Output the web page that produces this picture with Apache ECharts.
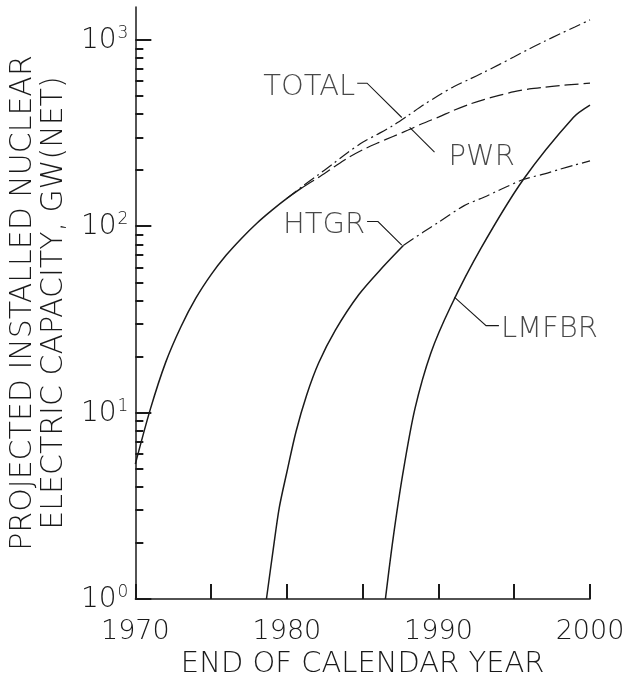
<!DOCTYPE html>
<html>
<head>
<meta charset="utf-8">
<script src="https://cdn.jsdelivr.net/npm/echarts@6/dist/echarts.min.js"></script>
<style>
html,body{margin:0;padding:0;background:#fff;}
#chart{width:630px;height:684px;}
</style>
</head>
<body>
<div id="chart"></div>
<script>
// ---- data ----
const years = [1970,1971,1972,1973,1974,1975,1976,1977,1978,1979,1980,1981,1982,1983,1984,1985,1986,1987,1988,1989,1990,1991,1992,1993,1994,1995,1996,1997,1998,1999,2000];
const totalGW = [5.3,10.5,18.6,28.8,41.2,55,70,86,103.5,121.6,141,163,187,215,248,282,312,347,393,447,502,560,612,670,736,811,895,982,1074,1172,1280];
const pwrGW   = [5.3,10.5,18.6,28.8,41.2,55,70,86,103.5,121.6,141,161,181,205,232,257,280,303,328,357,385,418,450,478,503,527,545,557,568,577,585];
const htgrYears = [1978.65,1979.1,1979.5,1980,1980.6,1981.3,1982.1,1983.2,1984.75,1986.3,1987.7,1989,1990,1991.7,1993,1994,1995.6,1997,1998,1999,2000];
const htgrGW    = [1,1.85,3.1,4.8,7.9,12.4,18.5,27.7,43,60,79,93,105,129,143,156,178,191,202,213,224];
const lmfbrYears = [1986.5,1987,1987.65,1988.45,1989.5,1990.8,1992.8,1995.6,1998.9,2000];
const lmfbrGW    = [1,2.09,4.7,10.5,20.9,37,76,178,383,446];

const xTickYears = [1970,1975,1980,1985,1990,1995,2000];
const xLabelYears = [1970,1980,1990,2000];
const yMajor = [1,10,100,1000];
const yMinor = [2,3,4,5,6,7,8,9,20,30,40,50,60,70,80,90,200,300,400,500,600,700,800,900];
const supDigits = {1:'0',10:'1',100:'2',1000:'3'};

// annotation texts and their leader paths (data space)
const annoText = ['TOTAL','PWR','HTGR','LMFBR'];
const annoLeader = [
  [[1984.64,585],[1985.29,585],[1987.58,383]],
  [[1989.74,250],[1988.1,339]],
  [[1985.29,106],[1986.01,106],[1987.58,79.2]],
  [[1993.99,29.3],[1993.14,29.3],[1991.05,41.6]]
];
const annoSide = ['left','right','left','right'];

// ---- helpers ----
function pairs(xs, ys, from, to){
  const out=[];
  for(let i=0;i<xs.length;i++){ if(xs[i]>=from && xs[i]<=to) out.push([xs[i], ys[i]]); }
  return out;
}
const FONT = "'DejaVu Sans', sans-serif";
const INK = '#1a1a1a';
const DASH = [14,5];
const DASHDOT = [12,4,2,4];

const lineBase = (name, data, type, width) => ({
  name, type:'line', data, showSymbol:false, symbol:'none', smooth:0.3,
  lineStyle:{color:INK, width:width||1.3, type:type}, z:3, animation:false
});

const chart = echarts.init(document.getElementById('chart'), null, {renderer:'canvas'});
const option = {
  backgroundColor:'#fff',
  animation:false,
  grid:{left:131, right:40, top:7, bottom:73, containLabel:false},
  xAxis:{
    type:'value', min:1970, max:2000, interval:5,
    name:'END OF CALENDAR YEAR', nameLocation:'middle', nameGap:51,
    nameTextStyle:{fontFamily:FONT, fontSize:29, fontWeight:200, color:INK},
    axisLine:{lineStyle:{color:INK, width:1.5}},
    axisTick:{inside:true, length:15, lineStyle:{color:INK, width:2}, customValues:xTickYears},
    axisLabel:{fontFamily:FONT, fontSize:27, fontWeight:200, color:INK, margin:19,
      customValues:xLabelYears,
      formatter:v => (v % 10 === 0 ? String(v) : '')},
    splitLine:{show:false}
  },
  yAxis:[{
    type:'log', logBase:10, min:1, max:1500,
    name:'PROJECTED INSTALLED NUCLEAR\nELECTRIC CAPACITY, GW(NET)',
    nameLocation:'middle', nameRotate:90, nameGap:65,
    nameTextStyle:{fontFamily:FONT, fontSize:30, fontWeight:200, color:INK, lineHeight:31, align:'center'},
    axisLine:{lineStyle:{color:INK, width:1.5}},
    axisTick:{inside:true, length:16, lineStyle:{color:INK, width:2}, customValues:yMajor},
    axisLabel:{margin:7, customValues:yMajor,
      formatter:v => (supDigits[v] !== undefined ? '{b|10}{s|' + supDigits[v] + '}' : ''),
      rich:{
        b:{fontFamily:FONT, fontSize:28, fontWeight:200, color:INK, lineHeight:30, verticalAlign:'bottom'},
        s:{fontFamily:FONT, fontSize:17, fontWeight:200, color:INK, lineHeight:30, verticalAlign:'top', padding:[0,0,10,1]}
      }},
    splitLine:{show:false}
  },{
    type:'log', logBase:10, min:1, max:1500, position:'left',
    axisLine:{show:false},
    axisTick:{inside:true, length:8, lineStyle:{color:INK, width:2}, customValues:yMinor},
    axisLabel:{show:false},
    splitLine:{show:false}
  }],
  series:[
    lineBase('PWR', pairs(years, pwrGW, 1970, 1981), 'solid', 1.5),
    lineBase('PWR', pairs(years, pwrGW, 1981, 2000), DASH, 1.2),
    lineBase('TOTAL', pairs(years, totalGW, 1980, 2000), DASHDOT, 1.2),
    lineBase('HTGR', pairs(htgrYears, htgrGW, 1978, 1987.7), 'solid', 1.5),
    lineBase('HTGR', pairs(htgrYears, htgrGW, 1987.7, 2000), DASHDOT, 1.2),
    lineBase('LMFBR', pairs(lmfbrYears, lmfbrGW, 1986, 2000), 'solid', 1.5),
    {
      type:'lines', coordinateSystem:'cartesian2d', polyline:true, z:4,
      symbol:['none','arrow'], symbolSize:[7,11],
      lineStyle:{color:INK, width:1.1, opacity:1},
      data: annoLeader.map(c => ({coords:c})),
      animation:false, silent:true
    },
    {
      type:'scatter', symbolSize:0, z:5, silent:true, animation:false,
      data: annoText.map((t,i) => ({
        value: annoLeader[i][0],
        label:{show:true, formatter:t, position:annoSide[i],
          distance: t === 'PWR' ? 14 : 2, offset: t === 'PWR' ? [0,5] : [0,4],
          fontFamily:FONT, fontSize:29, fontWeight:200, color:INK}
      }))
    }
  ]
};
chart.setOption(option);
</script>
</body>
</html>
